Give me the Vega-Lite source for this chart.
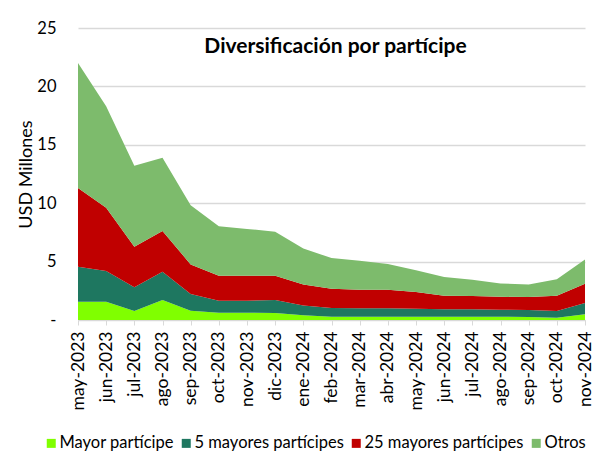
{
  "$schema": "https://vega.github.io/schema/vega-lite/v6.json",
  "width": 507,
  "height": 292,
  "autosize": {"type": "none"},
  "padding": {"left": 78, "top": 28, "right": 29, "bottom": 146},
  "background": "white",
  "config": {
    "font": "Lato",
    "view": {"stroke": null},
    "axis": {"labelColor": "#000", "titleColor": "#000", "labelFont": "Lato", "titleFont": "Lato"},
    "legend": {"labelFont": "Lato", "labelColor": "#000"}
  },
  "title": {
    "text": "Diversificación por partícipe",
    "fontSize": 21,
    "fontWeight": "bold",
    "font": "Lato",
    "color": "#000",
    "anchor": "middle",
    "baseline": "alphabetic",
    "offset": -54,
    "dx": 4
  },
  "data": {
    "values": [
      {"mes": "may-2023", "serie": "Mayor partícipe", "k": 1, "v": 1.56},
      {"mes": "may-2023", "serie": "5 mayores partícipes", "k": 2, "v": 2.99},
      {"mes": "may-2023", "serie": "25 mayores partícipes", "k": 3, "v": 6.75},
      {"mes": "may-2023", "serie": "Otros", "k": 4, "v": 10.7},
      {"mes": "jun-2023", "serie": "Mayor partícipe", "k": 1, "v": 1.56},
      {"mes": "jun-2023", "serie": "5 mayores partícipes", "k": 2, "v": 2.64},
      {"mes": "jun-2023", "serie": "25 mayores partícipes", "k": 3, "v": 5.4},
      {"mes": "jun-2023", "serie": "Otros", "k": 4, "v": 8.7},
      {"mes": "jul-2023", "serie": "Mayor partícipe", "k": 1, "v": 0.77},
      {"mes": "jul-2023", "serie": "5 mayores partícipes", "k": 2, "v": 2.03},
      {"mes": "jul-2023", "serie": "25 mayores partícipes", "k": 3, "v": 3.47},
      {"mes": "jul-2023", "serie": "Otros", "k": 4, "v": 6.93},
      {"mes": "ago-2023", "serie": "Mayor partícipe", "k": 1, "v": 1.71},
      {"mes": "ago-2023", "serie": "5 mayores partícipes", "k": 2, "v": 2.42},
      {"mes": "ago-2023", "serie": "25 mayores partícipes", "k": 3, "v": 3.5},
      {"mes": "ago-2023", "serie": "Otros", "k": 4, "v": 6.27},
      {"mes": "sep-2023", "serie": "Mayor partícipe", "k": 1, "v": 0.8},
      {"mes": "sep-2023", "serie": "5 mayores partícipes", "k": 2, "v": 1.42},
      {"mes": "sep-2023", "serie": "25 mayores partícipes", "k": 3, "v": 2.54},
      {"mes": "sep-2023", "serie": "Otros", "k": 4, "v": 5.07},
      {"mes": "oct-2023", "serie": "Mayor partícipe", "k": 1, "v": 0.62},
      {"mes": "oct-2023", "serie": "5 mayores partícipes", "k": 2, "v": 1.03},
      {"mes": "oct-2023", "serie": "25 mayores partícipes", "k": 3, "v": 2.14},
      {"mes": "oct-2023", "serie": "Otros", "k": 4, "v": 4.24},
      {"mes": "nov-2023", "serie": "Mayor partícipe", "k": 1, "v": 0.62},
      {"mes": "nov-2023", "serie": "5 mayores partícipes", "k": 2, "v": 1.03},
      {"mes": "nov-2023", "serie": "25 mayores partícipes", "k": 3, "v": 2.14},
      {"mes": "nov-2023", "serie": "Otros", "k": 4, "v": 4.01},
      {"mes": "dic-2023", "serie": "Mayor partícipe", "k": 1, "v": 0.6},
      {"mes": "dic-2023", "serie": "5 mayores partícipes", "k": 2, "v": 1.11},
      {"mes": "dic-2023", "serie": "25 mayores partícipes", "k": 3, "v": 2.08},
      {"mes": "dic-2023", "serie": "Otros", "k": 4, "v": 3.76},
      {"mes": "ene-2024", "serie": "Mayor partícipe", "k": 1, "v": 0.4},
      {"mes": "ene-2024", "serie": "5 mayores partícipes", "k": 2, "v": 0.85},
      {"mes": "ene-2024", "serie": "25 mayores partícipes", "k": 3, "v": 1.78},
      {"mes": "ene-2024", "serie": "Otros", "k": 4, "v": 3.1},
      {"mes": "feb-2024", "serie": "Mayor partícipe", "k": 1, "v": 0.28},
      {"mes": "feb-2024", "serie": "5 mayores partícipes", "k": 2, "v": 0.75},
      {"mes": "feb-2024", "serie": "25 mayores partícipes", "k": 3, "v": 1.65},
      {"mes": "feb-2024", "serie": "Otros", "k": 4, "v": 2.62},
      {"mes": "mar-2024", "serie": "Mayor partícipe", "k": 1, "v": 0.28},
      {"mes": "mar-2024", "serie": "5 mayores partícipes", "k": 2, "v": 0.72},
      {"mes": "mar-2024", "serie": "25 mayores partícipes", "k": 3, "v": 1.6},
      {"mes": "mar-2024", "serie": "Otros", "k": 4, "v": 2.47},
      {"mes": "abr-2024", "serie": "Mayor partícipe", "k": 1, "v": 0.28},
      {"mes": "abr-2024", "serie": "5 mayores partícipes", "k": 2, "v": 0.72},
      {"mes": "abr-2024", "serie": "25 mayores partícipes", "k": 3, "v": 1.6},
      {"mes": "abr-2024", "serie": "Otros", "k": 4, "v": 2.19},
      {"mes": "may-2024", "serie": "Mayor partícipe", "k": 1, "v": 0.28},
      {"mes": "may-2024", "serie": "5 mayores partícipes", "k": 2, "v": 0.69},
      {"mes": "may-2024", "serie": "25 mayores partícipes", "k": 3, "v": 1.42},
      {"mes": "may-2024", "serie": "Otros", "k": 4, "v": 1.88},
      {"mes": "jun-2024", "serie": "Mayor partícipe", "k": 1, "v": 0.28},
      {"mes": "jun-2024", "serie": "5 mayores partícipes", "k": 2, "v": 0.63},
      {"mes": "jun-2024", "serie": "25 mayores partícipes", "k": 3, "v": 1.17},
      {"mes": "jun-2024", "serie": "Otros", "k": 4, "v": 1.6},
      {"mes": "jul-2024", "serie": "Mayor partícipe", "k": 1, "v": 0.28},
      {"mes": "jul-2024", "serie": "5 mayores partícipes", "k": 2, "v": 0.63},
      {"mes": "jul-2024", "serie": "25 mayores partícipes", "k": 3, "v": 1.14},
      {"mes": "jul-2024", "serie": "Otros", "k": 4, "v": 1.4},
      {"mes": "ago-2024", "serie": "Mayor partícipe", "k": 1, "v": 0.28},
      {"mes": "ago-2024", "serie": "5 mayores partícipes", "k": 2, "v": 0.6},
      {"mes": "ago-2024", "serie": "25 mayores partícipes", "k": 3, "v": 1.11},
      {"mes": "ago-2024", "serie": "Otros", "k": 4, "v": 1.14},
      {"mes": "sep-2024", "serie": "Mayor partícipe", "k": 1, "v": 0.25},
      {"mes": "sep-2024", "serie": "5 mayores partícipes", "k": 2, "v": 0.6},
      {"mes": "sep-2024", "serie": "25 mayores partícipes", "k": 3, "v": 1.11},
      {"mes": "sep-2024", "serie": "Otros", "k": 4, "v": 1.09},
      {"mes": "oct-2024", "serie": "Mayor partícipe", "k": 1, "v": 0.2},
      {"mes": "oct-2024", "serie": "5 mayores partícipes", "k": 2, "v": 0.57},
      {"mes": "oct-2024", "serie": "25 mayores partícipes", "k": 3, "v": 1.31},
      {"mes": "oct-2024", "serie": "Otros", "k": 4, "v": 1.4},
      {"mes": "nov-2024", "serie": "Mayor partícipe", "k": 1, "v": 0.5},
      {"mes": "nov-2024", "serie": "5 mayores partícipes", "k": 2, "v": 0.95},
      {"mes": "nov-2024", "serie": "25 mayores partícipes", "k": 3, "v": 1.65},
      {"mes": "nov-2024", "serie": "Otros", "k": 4, "v": 2.09}
    ]
  },
  "mark": {"type": "area", "interpolate": "linear"},
  "encoding": {
    "x": {
      "field": "mes",
      "type": "ordinal",
      "sort": null,
      "scale": {"type": "point", "padding": 0},
      "axis": {
        "title": null,
        "labelAngle": -90,
        "labelFontSize": 17.5,
        "labelPadding": 6,
        "labelAlign": "right",
        "labelBaseline": "middle",
        "domainColor": "#d9d9d9",
        "tickColor": "#d9d9d9",
        "tickSize": 5,
        "grid": false
      }
    },
    "y": {
      "field": "v",
      "type": "quantitative",
      "stack": "zero",
      "scale": {"domain": [0, 25], "nice": false},
      "axis": {
        "title": "USD Millones",
        "titleFontSize": 18,
        "titleFontWeight": "normal",
        "titlePadding": 1,
        "values": [0, 5, 10, 15, 20, 25],
        "labelExpr": "datum.value == 0 ? '-' : datum.label",
        "labelFontSize": 16.5,
        "labelPadding": 22,
        "ticks": false,
        "domain": false,
        "gridColor": "#d9d9d9",
        "gridWidth": 1.5
      }
    },
    "order": {"field": "k", "type": "quantitative", "sort": "ascending"},
    "color": {
      "field": "serie",
      "type": "nominal",
      "scale": {
        "domain": ["Mayor partícipe", "5 mayores partícipes", "25 mayores partícipes", "Otros"],
        "range": ["#80ff00", "#1e7760", "#c00000", "#7dbb6c"]
      },
      "legend": {
        "title": null,
        "orient": "none",
        "legendX": -35,
        "legendY": 407,
        "direction": "horizontal",
        "symbolType": "square",
        "symbolSize": 81,
        "symbolStrokeWidth": 0,
        "labelFontSize": 16.5,
        "labelOffset": 0,
        "labelLimit": 300,
        "columnPadding": 4
      }
    }
  }
}
